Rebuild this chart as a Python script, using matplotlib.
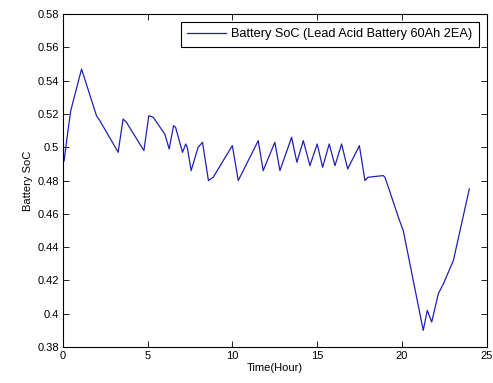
import numpy as np
from matplotlib import pyplot as plt

plt.rcParams['font.family'] = ['Liberation Sans', 'DejaVu Sans']

# time (hour) and state of charge
time_h = [0.0, 0.06, 0.3, 0.45, 1.09, 1.97, 2.17, 3.25, 3.54, 3.74, 4.77, 5.06,
          5.32, 6.0, 6.26, 6.52, 6.64, 7.05, 7.24, 7.33, 7.56, 7.97, 8.23, 8.58,
          8.86, 9.99, 10.34, 11.52, 11.81, 12.5, 12.8, 13.49, 13.8, 14.18, 14.57,
          15.0, 15.32, 15.71, 16.05, 16.44, 16.8, 17.49, 17.82, 18.0, 18.9, 19.0,
          19.3, 19.79, 20.08, 21.26, 21.5, 21.76, 22.15, 22.45, 23.04, 23.98]
soc = [0.491, 0.492, 0.511, 0.522, 0.547, 0.519, 0.516, 0.497, 0.517, 0.515,
       0.498, 0.519, 0.518, 0.508, 0.499, 0.513, 0.512, 0.497, 0.502, 0.500,
       0.486, 0.500, 0.503, 0.480, 0.482, 0.501, 0.480, 0.504, 0.486, 0.503,
       0.486, 0.506, 0.491, 0.504, 0.489, 0.502, 0.488, 0.502, 0.489, 0.502,
       0.487, 0.501, 0.480, 0.482, 0.483, 0.482, 0.473, 0.458, 0.450, 0.390,
       0.402, 0.395, 0.412, 0.418, 0.432, 0.475]

fig = plt.figure(figsize=(4.93, 3.83), dpi=100)
ax = fig.add_axes([0.128, 0.094, 0.859, 0.869])
ax.plot(time_h, soc, color='#2020b8', linewidth=0.9,
        label='Battery SoC (Lead Acid Battery 60Ah 2EA)')

ax.set_xlim(0, 25)
ax.set_ylim(0.38, 0.58)
ax.set_xticks([0, 5, 10, 15, 20, 25])
ax.set_yticks(np.arange(0.38, 0.581, 0.02))
ax.set_yticklabels(['0.38', '0.4', '0.42', '0.44', '0.46', '0.48', '0.5',
                    '0.52', '0.54', '0.56', '0.58'])
ax.tick_params(direction='in', top=True, right=True, labelsize=8, length=4,
               width=0.6, pad=3)
for s in ax.spines.values():
    s.set_linewidth(0.8)

ax.set_xlabel('Time(Hour)', fontsize=8, labelpad=1)
ax.set_ylabel('Battery SoC', fontsize=8, labelpad=3)

leg = ax.legend(loc='upper right', fontsize=9.2, fancybox=False, framealpha=1,
                edgecolor='black', borderaxespad=0.6, handlelength=3.0,
                handletextpad=0.45, borderpad=0.5)
leg.get_frame().set_linewidth(0.8)

fig.savefig('out.png', dpi=100)
